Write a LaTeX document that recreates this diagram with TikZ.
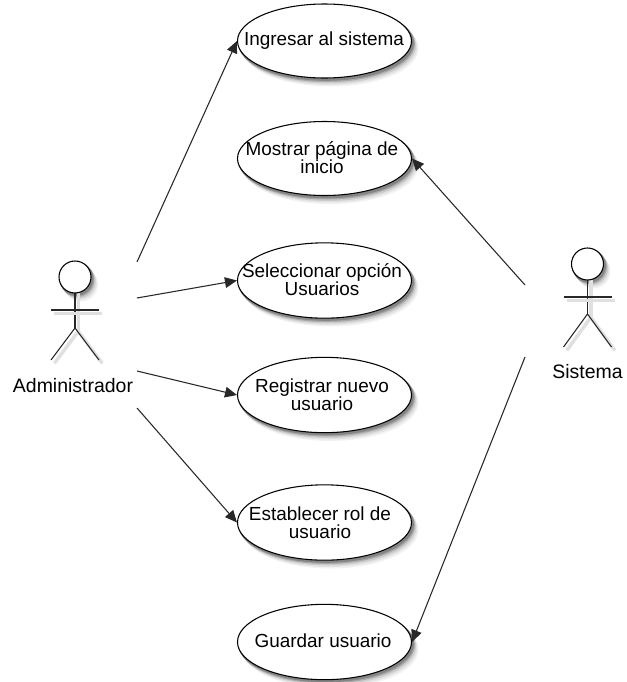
\documentclass[tikz,border=0pt]{standalone}
\usepackage{fontspec}
\setmainfont{Liberation Sans}
\usetikzlibrary{arrows.meta, shapes.geometric}
\definecolor{lineGray}{RGB}{40, 40, 40}
\newcommand{\softshadow}[4]{
  \foreach \offs/\tone in {7.5/5, 6/11, 4.5/20, 3/34, 1.8/48}
    \path[draw=black!\tone, fill=black!\tone, line width=1.5pt] (#1+\offs*0.8, #2+\offs) ellipse [x radius=#3, y radius=#4];
}
\tikzset{
  usecase/.style={draw=black, thick, fill=white, ellipse, inner sep=0pt, minimum width=130.5pt, minimum height=55.5pt},
  usetext/.style={align=center, font=\fontsize{14.2}{13.5}\selectfont, text=black},
  actorhead/.style={draw=black, thick, fill=white, circle, inner sep=0pt, minimum size=24pt},
  actortext/.style={font=\fontsize{14.6}{13.5}\selectfont, text=black},
  actorline/.style={draw=lineGray, thick,
    preaction={draw=black!12, line width=2.6pt, transform canvas={shift={(2.5pt,-2.5pt)}}}},
  assoc/.style={draw=lineGray, thick, -{Triangle[length=9pt, width=8pt]}}
}

\begin{document}
\begin{tikzpicture}[x=0.75pt, y=-0.75pt]

  \useasboundingbox (0, 0) rectangle (627, 682);

  % sombras
  \softshadow{75}{277}{16}{16}
  \softshadow{587.5}{264}{16}{16}
  \softshadow{324.5}{41}{87}{37}
  \softshadow{324.5}{158.5}{87}{37}
  \softshadow{324.5}{280.5}{87}{37.5}
  \softshadow{324.5}{395}{87}{37.5}
  \softshadow{324.5}{522.5}{87}{37.5}
  \softshadow{324.5}{642}{87}{37.5}

  % actor izquierdo
  \coordinate (adminNeck) at (75, 290);
  \coordinate (adminHip) at (75, 328);
  \coordinate (adminArmL) at (51, 310);
  \coordinate (adminArmR) at (99, 310);
  \coordinate (adminLegL) at (51, 360);
  \coordinate (adminLegR) at (99, 360);
  \draw[actorline] (adminNeck) -- (adminHip);
  \draw[actorline] (adminArmL) -- (adminArmR);
  \draw[actorline] (adminLegL) -- (adminHip) -- (adminLegR);
  \node[actorhead] (adminHead) at (75, 277) {};
  \node[actortext] (adminText) at (73, 386) {Administrador};

  % actor derecho
  \coordinate (sistemaNeck) at (587.5, 277);
  \coordinate (sistemaHip) at (587.5, 314);
  \coordinate (sistemaArmL) at (563.5, 297);
  \coordinate (sistemaArmR) at (611.5, 297);
  \coordinate (sistemaLegL) at (563.5, 347);
  \coordinate (sistemaLegR) at (611.5, 347);
  \draw[actorline] (sistemaNeck) -- (sistemaHip);
  \draw[actorline] (sistemaArmL) -- (sistemaArmR);
  \draw[actorline] (sistemaLegL) -- (sistemaHip) -- (sistemaLegR);
  \node[actorhead] (sistemaHead) at (587.5, 264) {};
  \node[actortext] (sistemaText) at (587.5, 372) {Sistema};

  % casos de uso
  \node[usecase] (ingresar) at (324.5, 41) {};
  \node[usecase] (mostrar) at (324.5, 158.5) {};
  \node[usecase, minimum height=56.5pt] (seleccionar) at (324.5, 280.5) {};
  \node[usecase, minimum height=56.5pt] (registrar) at (324.5, 395) {};
  \node[usecase, minimum height=56.5pt] (establecer) at (324.5, 522.5) {};
  \node[usecase, minimum height=56.5pt] (guardar) at (324.5, 642) {};
  \node[usetext] (ingresarText) at (324, 41) {Ingresar al sistema};
  \node[usetext] (mostrarText) at (322, 158) {Mostrar página de\\inicio};
  \node[usetext] (seleccionarText) at (322, 280) {Seleccionar opción\\Usuarios};
  \node[usetext] (registrarText) at (322, 395) {Registrar nuevo\\usuario};
  \node[usetext] (establecerText) at (320, 522.5) {Establecer rol de\\usuario};
  \node[usetext] (guardarText) at (323, 641) {Guardar usuario};

  % asociaciones
  \coordinate (adminA) at (137, 262);
  \coordinate (adminB) at (137, 298);
  \coordinate (adminC) at (137, 371);
  \coordinate (adminD) at (137, 408);
  \coordinate (sistemaA) at (525, 285);
  \coordinate (sistemaB) at (525, 357);
  \draw[assoc] (adminA) -- (ingresar.west);
  \draw[assoc] (adminB) -- (seleccionar.west);
  \draw[assoc] (adminC) -- (registrar.west);
  \draw[assoc] (adminD) -- (establecer.west);
  \draw[assoc] (sistemaA) -- (mostrar.east);
  \draw[assoc] (sistemaB) -- (guardar.east);

\end{tikzpicture}
\end{document}
